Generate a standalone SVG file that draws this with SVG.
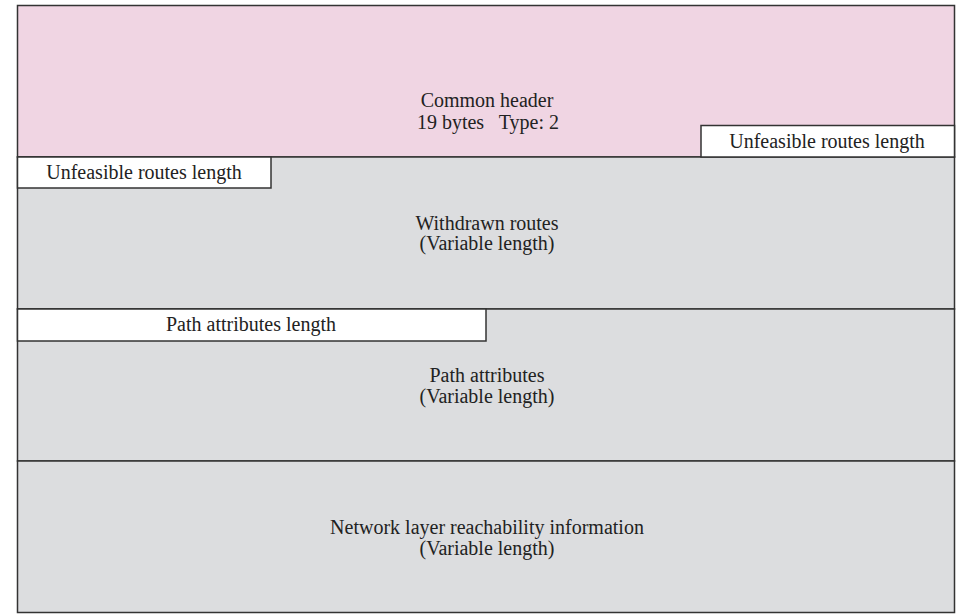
<svg xmlns="http://www.w3.org/2000/svg" width="958" height="614" viewBox="0 0 958 614">
<style>
.box{stroke:#333;stroke-width:1.5}
.pink{fill:#f0d5e3}
.gray{fill:#dcdddf}
.white{fill:#fff}
text{font-family:'Liberation Serif', 'Times New Roman', serif;font-size:20px;fill:#222;text-anchor:middle}
</style>
<rect width="958" height="614" fill="#fff"/>
<g id="header"><rect class="box pink" x="17.5" y="5.5" width="937" height="151.5"/>
<text x="487" y="107">Common header</text><text x="488" y="129">19 bytes &#160; Type: 2</text></g>
<g id="withdrawn"><rect class="box gray" x="17.5" y="157" width="937" height="152"/>
<text x="487" y="230">Withdrawn routes</text><text x="487" y="250">(Variable length)</text></g>
<g id="pathattr"><rect class="box gray" x="17.5" y="309" width="937" height="152"/>
<text x="487" y="382">Path attributes</text><text x="487" y="403">(Variable length)</text></g>
<g id="nlri"><rect class="box gray" x="17.5" y="461" width="937" height="151.5"/>
<text x="487" y="534">Network layer reachability information</text><text x="487" y="555">(Variable length)</text></g>
<g id="urlen-right"><rect class="box white" x="701" y="125.5" width="253.5" height="31.5"/>
<text x="827" y="148">Unfeasible routes length</text></g>
<g id="urlen-left"><rect class="box white" x="17.5" y="157" width="253.5" height="31"/>
<text x="144" y="179">Unfeasible routes length</text></g>
<g id="palen"><rect class="box white" x="17.5" y="309" width="468.5" height="32"/>
<text x="251" y="331">Path attributes length</text></g>
<g id="connectors"/>
</svg>
